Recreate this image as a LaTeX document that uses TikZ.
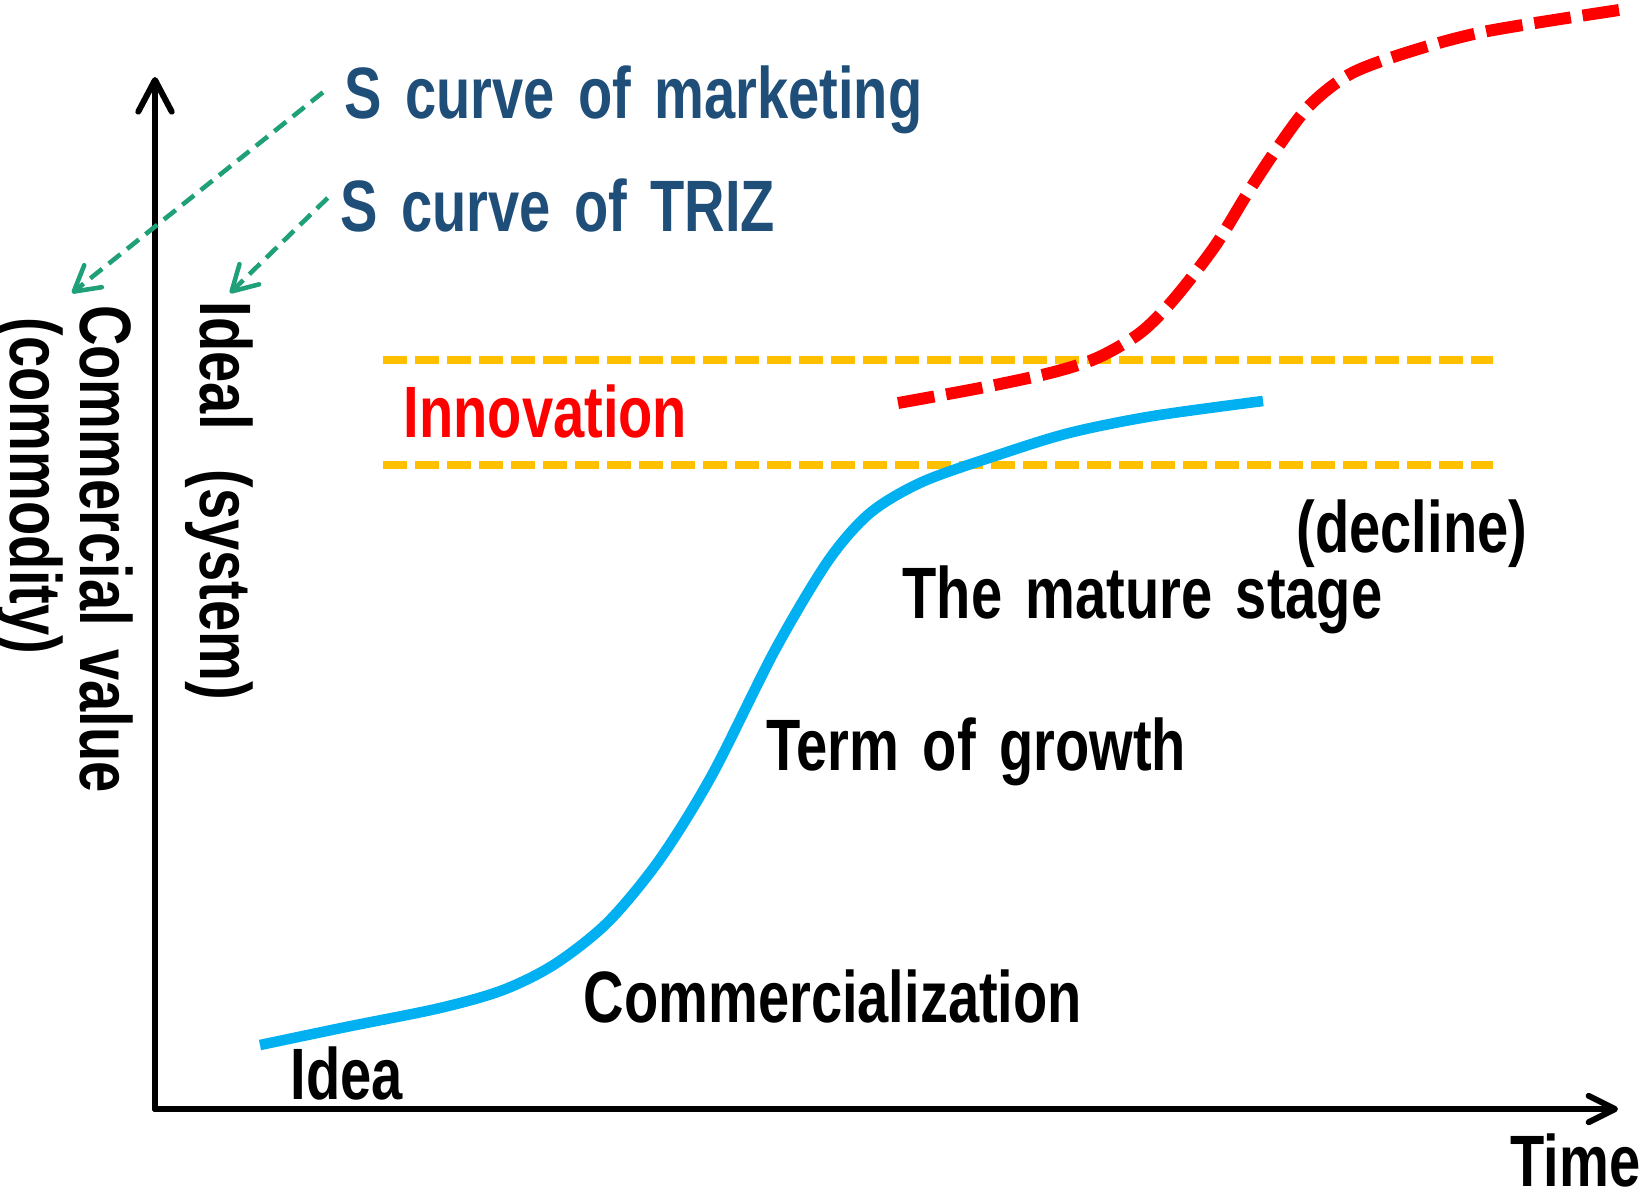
\documentclass[tikz,border=0pt]{standalone}
\usepackage{fontspec}
\setmainfont{Liberation Sans}[FakeStretch=0.77, WordSpace=1.5]
\usetikzlibrary{arrows.meta}

\definecolor{triblue}{RGB}{31,78,121}
\definecolor{arrgreen}{RGB}{32,160,120}
\definecolor{scyan}{RGB}{0,176,240}
\definecolor{band}{RGB}{255,192,0}

\tikzset{
  lbl/.style = {inner sep=0pt, anchor=base west,
    font=\fontsize{20.7}{24}\selectfont\bfseries},
  vlbl/.style = {lbl, anchor=base, rotate=-90},
  axis/.style = {line width=1.7pt, line cap=round},
  garr/.style = {arrgreen, line width=1.3pt, dash pattern=on 4.3pt off 2.4pt,
    -{Straight Barb[length=7pt, width=8pt, round]}},
  bandline/.style = {band, line width=2.1pt, dash pattern=on 6.8pt off 2.3pt},
  scurve/.style = {scyan, line width=3pt},
  newcurve/.style = {red, line width=3.4pt, dash pattern=on 10.5pt off 3.4pt}
}

\begin{document}
\begin{tikzpicture}[x=0.01cm, y=-0.01cm]
\useasboundingbox (0,0) rectangle (1643,1196);

%% axes
\coordinate (org) at (155,1109);
\coordinate (ytop) at (155,77);
\coordinate (xend) at (1618,1109);
\draw[axis, -{Straight Barb[length=9pt, width=9.5pt, round]}] (org) -- (ytop);
\draw[axis, -{Straight Barb[length=7.5pt, width=7.5pt, round]}] (org) -- (xend);
\node[lbl] (time) at (1510,1186) {Time};

%% vertical labels
\node[vlbl] (cv) at (80,549) {Commercial value};
\node[vlbl] (cm) at (10,486) {(commodity)};
\node[vlbl] (ideal) at (200,501) {Ideal\hspace{0.55em}(system)};

%% curve names and pointers
\node[lbl, triblue] (mkt) at (344,118) {S curve of marketing};
\node[lbl, triblue] (triz) at (340,231) {S curve of TRIZ};
\coordinate (cvtip) at (72,293);
\coordinate (idtip) at (230,293);
\draw[garr] ([xshift=-6pt, yshift=2pt]mkt.west) -- (cvtip);
\draw[garr] ([xshift=-3.5pt, yshift=2pt]triz.west) -- (idtip);

%% innovation band
\coordinate (b1a) at (383,360);
\coordinate (b1b) at (1493,360);
\coordinate (b2a) at (383,465);
\coordinate (b2b) at (1493,465);
\draw[bandline] (b1a) -- (b1b);
\draw[bandline] (b2a) -- (b2b);
\node[lbl, red] (inno) at (403,437) {Innovation};

%% S curves
\draw[scurve] plot[smooth] coordinates {
  (260,1045) (346,1027) (440,1008) (503,990) (555,964) (608,922)
  (660,859) (712,775) (775,650) (828,561) (870,513) (922,482)
  (995,456) (1069,433) (1153,416) (1263,401)};
\draw[newcurve] plot[smooth] coordinates {
  (898,403) (980,388) (1050,373) (1097,358) (1140,333) (1174,299)
  (1215,246) (1247,194) (1278,147) (1310,105) (1352,73)
  (1415,50) (1488,31) (1619,10)};

%% stages
\node[lbl] (idea) at (290,1099) {Idea};
\node[lbl] (comm) at (583,1022) {Commercialization};
\node[lbl] (grow) at (766,770) {Term of growth};
\node[lbl] (mat) at (902,618) {The mature stage};
\node[lbl] (decl) at (1296,552) {(decline)};

\end{tikzpicture}
\end{document}
